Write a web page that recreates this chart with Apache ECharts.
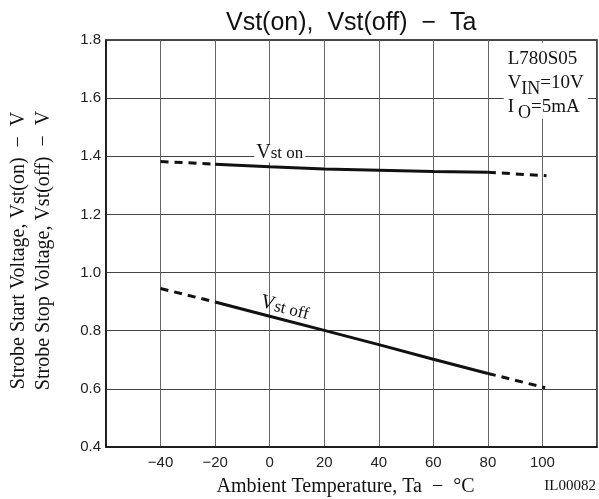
<!DOCTYPE html>
<html>
<head>
<meta charset="utf-8">
<script src="https://cdn.jsdelivr.net/npm/echarts@6/dist/echarts.min.js"></script>
<style>
  html, body { margin: 0; padding: 0; background: #fff; }
  #chart { width: 599px; height: 499px; }
</style>
</head>
<body>
<div id="chart"></div>
<script>
// Ambient temperature (°C) and strobe voltages (V)
const onDashLeftT  = [-40, -20];
const onDashLeftV  = [1.382, 1.373];
const onSolidT     = [-20, 0, 20, 40, 60, 80];
const onSolidV     = [1.373, 1.364, 1.356, 1.352, 1.348, 1.345];
const onDashRightT = [80, 101.5];
const onDashRightV = [1.345, 1.333];

const offDashLeftT  = [-40, -20];
const offDashLeftV  = [0.945, 0.899];
const offSolidT     = [-20, 0, 20, 40, 60, 80];
const offSolidV     = [0.899, 0.850, 0.801, 0.752, 0.702, 0.653];
const offDashRightT = [80, 101];
const offDashRightV = [0.653, 0.604];

const xTickLabels = [-40, -20, 0, 20, 40, 60, 80, 100];
const yTickLabels = [0.4, 0.6, 0.8, 1.0, 1.2, 1.4, 1.6, 1.8];

const SERIF = '"Liberation Serif", "DejaVu Serif", serif';
const SANS = '"Liberation Sans", Arial, sans-serif';

const pairs = (ts, vs) => ts.map((t, i) => [t, vs[i]]);

function curve(ts, vs, dashed) {
  return {
    type: 'line',
    data: pairs(ts, vs),
    symbol: 'none',
    smooth: false,
    silent: true,
    lineStyle: { color: '#111', width: 3, type: dashed ? [8, 6] : 'solid', cap: 'butt' },
    z: 3
  };
}

const curveLabelRich = {
  v: { fontFamily: SERIF, fontSize: 20, color: '#111', verticalAlign: 'bottom', lineHeight: 18 },
  s: { fontFamily: SERIF, fontSize: 17, color: '#111', verticalAlign: 'bottom', lineHeight: 14 }
};

const chart = echarts.init(document.getElementById('chart'), null, { renderer: 'canvas' });

const series = [
  curve(onDashLeftT, onDashLeftV, true),
  curve(onSolidT, onSolidV, false),
  curve(onDashRightT, onDashRightV, true),
  curve(offDashLeftT, offDashLeftV, true),
  curve(offSolidT, offSolidV, false),
  curve(offDashRightT, offDashRightV, true),
  {
    // curve names and test conditions
    type: 'scatter',
    data: [],
    silent: true,
    markPoint: {
      symbol: 'circle',
      symbolSize: 0,
      silent: true,
      data: [
        {
          coord: [3.7, 1.41],
          label: {
            show: true,
            position: 'inside',
            formatter: '{v|V}{s|st on}',
            backgroundColor: '#fff',
            padding: [0, 2, 0, 2],
            rich: curveLabelRich
          }
        },
        {
          coord: [5.5, 0.877],
          label: {
            show: true,
            position: 'inside',
            rotate: -14,
            formatter: '{v|V}{s|st off}',
            rich: curveLabelRich
          }
        },
        {
          coord: [101.2, 1.66],
          label: {
            show: true,
            position: 'inside',
            backgroundColor: '#fff',
            padding: [2, 4, 2, 4],
            formatter: '{t|L780S05}\n{t|V}{sb|IN}{t|=10V}\n{t|I}{sb|O}{t|=5mA}',
            rich: {
              t: { fontFamily: SERIF, fontSize: 19, color: '#111', lineHeight: 24, verticalAlign: 'bottom', align: 'left' },
              sb: { fontFamily: SERIF, fontSize: 18, color: '#111', lineHeight: 24, verticalAlign: 'bottom', padding: [0, 0, -6, 0] }
            }
          }
        }
      ]
    }
  }
];

chart.setOption({
  animation: false,
  backgroundColor: '#fff',
  title: {
    text: 'Vst(on),  Vst(off)  \u2212  Ta',
    left: 221,
    top: 6,
    textStyle: { fontFamily: SANS, fontSize: 25, fontWeight: 'normal', color: '#111' }
  },
  grid: {
    left: 106, right: 2, top: 40, bottom: 52,
    outerBoundsMode: 'none',
    containLabel: false,
    show: true, borderColor: '#111', borderWidth: 1.5, backgroundColor: 'transparent'
  },
  xAxis: {
    type: 'value',
    min: -60, max: 120, interval: 20,
    axisLine: { show: true, onZero: false, lineStyle: { color: '#111', width: 1.5 } },
    axisTick: { show: false },
    splitLine: { show: true, lineStyle: { color: '#666', width: 1 } },
    axisLabel: {
      fontFamily: SANS, fontSize: 15, color: '#222', margin: 8,
      formatter: v => xTickLabels.includes(v) ? String(v).replace('-', '\u2212') : ''
    },
    name: 'Ambient Temperature, Ta  \u2212  \u00b0C',
    nameLocation: 'middle',
    nameGap: 30,
    nameTextStyle: { fontFamily: SERIF, fontSize: 20, color: '#111', padding: [0, 12, 0, 0] }
  },
  yAxis: {
    type: 'value',
    min: 0.4, max: 1.8, interval: 0.2,
    axisLine: { show: true, onZero: false, lineStyle: { color: '#111', width: 1.5 } },
    axisTick: { show: false },
    splitLine: { show: true, lineStyle: { color: '#444', width: 1 } },
    axisLabel: {
      fontFamily: SANS, fontSize: 15, color: '#222', margin: 5,
      formatter: v => {
        const hit = yTickLabels.find(t => Math.abs(t - v) < 1e-9);
        return hit === undefined ? '' : hit.toFixed(1);
      }
    },
    name: 'Strobe Start Voltage, Vst(on)  \u2212  V\nStrobe Stop Voltage, Vst(off)  \u2212  V',
    nameLocation: 'middle',
    nameGap: 50,
    nameTextStyle: { fontFamily: SERIF, fontSize: 20, color: '#111', lineHeight: 25, padding: [0, 14, 0, 0] }
  },
  graphic: [
    {
      type: 'text',
      right: 3,
      bottom: 5,
      style: { text: 'IL00082', font: '15px ' + SERIF, fill: '#111' }
    }
  ],
  series: series
});
</script>
</body>
</html>
